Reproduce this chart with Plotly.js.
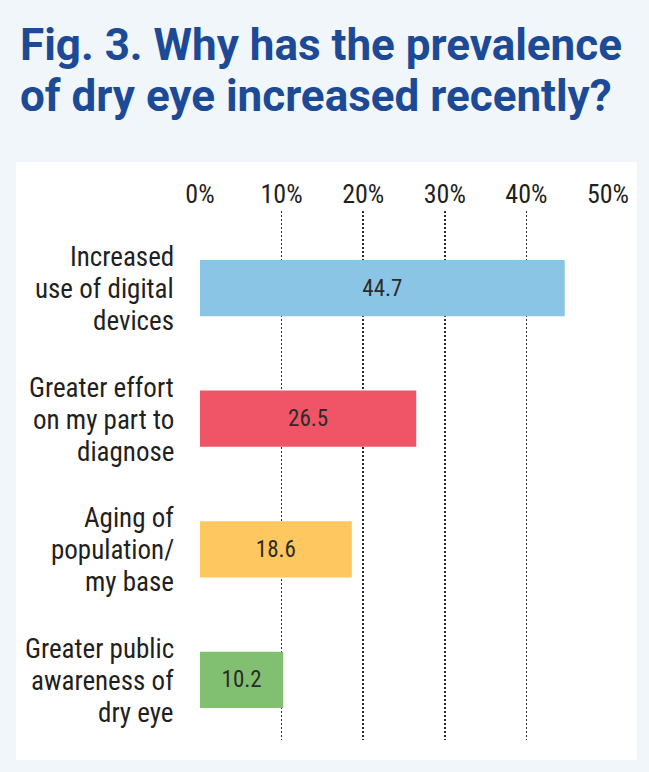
<!DOCTYPE html>
<html>
<head>
<meta charset="utf-8">
<script src="https://cdn.plot.ly/plotly-3.0.1.min.js"></script>
<style>
  html, body { margin: 0; padding: 0; background: #f1f6fb; }
  #chart { width: 649px; height: 772px; }
  text, tspan { font-stretch: 82%; }
  text[data-unformatted^="Fig."], text[data-unformatted^="of dry"],
  text[data-unformatted^="Fig."] tspan, text[data-unformatted^="of dry"] tspan { font-stretch: 88%; }
</style>
</head>
<body>
<div id="chart"></div>
<script>
// ---- data ----
const categories = ["Increased use of digital devices", "Greater effort on my part to diagnose", "Aging of population/ my base", "Greater public awareness of dry eye"];
const categoryLines = [
  ["Increased", "use of digital", "devices"],
  ["Greater effort", "on my part to", "diagnose"],
  ["Aging of", "population/", "my base"],
  ["Greater public", "awareness of", "dry eye"]
];
const values = [44.7, 26.5, 18.6, 10.2];
const barColors = ["#8bc5e5", "#ef5566", "#fec75f", "#82c071"];
const tickValues = [0, 10, 20, 30, 40, 50];
const tickLabels = ["0%", "10%", "20%", "30%", "40%", "50%"];
const titleLines = ["Fig. 3. Why has the prevalence", "of dry eye increased recently?"];

// ---- layout geometry (pixels) ----
const W = 649, H = 772;
const M = { l: 200, r: 41, t: 211, b: 32 };
const PW = W - M.l - M.r, PH = H - M.t - M.b;
const px2x = p => (p - M.l) / PW;
const py2y = p => (H - M.b - p) / PH;

const FONT = "Roboto, sans-serif";

const annotations = [];
// category labels, one annotation per line for the tight line spacing
const lineOffsets = [31, -1, -33];
categoryLines.forEach((lines, i) => {
  lines.forEach((ln, j) => {
    annotations.push({
      xref: "paper", yref: "y", x: 0, y: categories[i],
      xanchor: "right", yanchor: "middle",
      xshift: -24, yshift: lineOffsets[j],
      text: ln, showarrow: false,
      font: { family: FONT, size: 27, color: "#231f20" }
    });
  });
});
// title lines
const titleCenters = [45, 96];
titleLines.forEach((t, j) => {
  annotations.push({
    xref: "paper", yref: "paper",
    x: px2x(18), y: py2y(titleCenters[j]),
    xanchor: "left", yanchor: "middle",
    text: t, showarrow: false,
    font: { family: FONT, size: 44, color: "#1d4a96", weight: 700 }
  });
});

const trace = {
  type: "bar",
  orientation: "h",
  y: categories,
  x: values,
  width: 0.43,
  marker: { color: barColors, line: { width: 0 } },
  text: values.map(v => v.toFixed(1)),
  textposition: "inside",
  insidetextanchor: "middle",
  insidetextfont: { family: FONT, size: 23, color: "#2b2b2b" },
  hoverinfo: "none",
  cliponaxis: false
};

const layout = {
  width: W, height: H,
  margin: M,
  paper_bgcolor: "#f1f6fb",
  plot_bgcolor: "rgba(0,0,0,0)",
  showlegend: false,
  xaxis: {
    side: "top",
    range: [0, 50],
    tickvals: tickValues,
    ticktext: tickLabels,
    ticks: "",
    ticklabelstandoff: 2,
    showgrid: true,
    gridcolor: "#2a2a2a",
    gridwidth: 1.6,
    griddash: "2px,2px",
    zeroline: false,
    showline: false,
    tickfont: { family: FONT, size: 26, color: "#231f20" },
    fixedrange: true
  },
  yaxis: {
    type: "category",
    categoryorder: "array",
    categoryarray: categories,
    range: [3.46, -0.59],
    showticklabels: false,
    showgrid: false,
    zeroline: false,
    showline: false,
    ticks: "",
    fixedrange: true
  },
  shapes: [{
    type: "rect", xref: "paper", yref: "paper", layer: "below",
    x0: px2x(16), x1: px2x(637), y0: py2y(760), y1: py2y(162),
    fillcolor: "#ffffff", line: { width: 0 }
  }],
  annotations: annotations
};

Plotly.newPlot("chart", [trace], layout, { displayModeBar: false, staticPlot: true });
</script>
</body>
</html>
